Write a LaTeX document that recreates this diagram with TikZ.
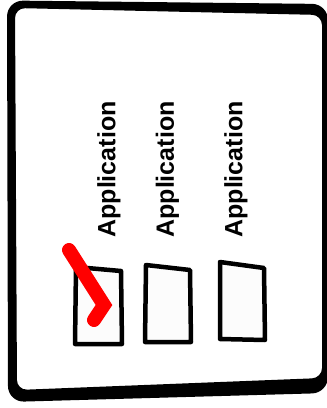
\documentclass[tikz,border=0pt]{standalone}
\usepackage{fontspec}
\setmainfont{Liberation Sans}
\usetikzlibrary{positioning}
\definecolor{boxfill}{HTML}{FCFCFC}
\tikzset{
  applabel/.style={rotate=90, inner sep=0pt, font=\fontsize{25}{30}\selectfont\bfseries},
  checkbox/.style={draw=black, fill=boxfill, line width=4.5pt, line join=round},
  tick/.style={draw=red, line width=14pt, line cap=round, line join=miter}
}

\begin{document}
\begin{tikzpicture}[x=1pt,y=-1pt]
\useasboundingbox (0,0) rectangle (327,408);
% frame of the form
\fill[black, even odd rule, rounded corners=16pt]
  (7,0.5) -- (328,4) -- (328,393) -- (8,402) -- cycle
  [rounded corners=10pt]
  (15,8) -- (322,15) -- (322,378) -- (17,390) -- cycle;
% labels
\node[applabel] (app1) at (109,169.5) {Application};
\node[applabel] (app2) at (167.5,169.5) {Application};
\node[applabel] (app3) at (236,169.5) {Application};
% boxes
\draw[checkbox] (76,267) -- (121,271) -- (122,344) -- (75,344) -- cycle;
\draw[checkbox] (146,265) -- (190,270) -- (191,342) -- (145,342) -- cycle;
\draw[checkbox] (220,262) -- (264,268) -- (265,340) -- (220,339) -- cycle;
% tick in the first box
\draw[tick] (69,250) -- (104,305) -- (94,320);
\end{tikzpicture}
\end{document}
